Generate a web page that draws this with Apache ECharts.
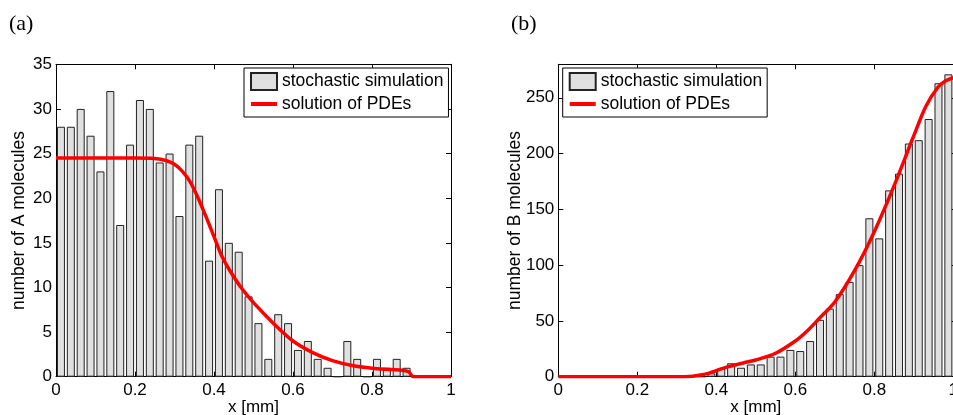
<!DOCTYPE html>
<html><head><meta charset="utf-8">
<script src="https://cdn.jsdelivr.net/npm/echarts@6/dist/echarts.min.js"></script>
<style>html,body{margin:0;padding:0;background:#fff;}#c{width:953px;height:415px;}</style>
</head><body><div id="c"></div>
<script>
// histogram bin centres (40 bins of 0.025 mm)
const binCenters = [0.0125,0.0375,0.0625,0.0875,0.1125,0.1375,0.1625,0.1875,0.2125,0.2375,
  0.2625,0.2875,0.3125,0.3375,0.3625,0.3875,0.4125,0.4375,0.4625,0.4875,
  0.5125,0.5375,0.5625,0.5875,0.6125,0.6375,0.6625,0.6875,0.7125,0.7375,
  0.7625,0.7875,0.8125,0.8375,0.8625,0.8875,0.9125,0.9375,0.9625,0.9875];
// stochastic simulation counts, panel (a): A molecules
const countsA = [28,28,30,27,23,32,17,26,31,30,24,25,18,26,27,13,21,15,14,9,
  6,2,7,6,3,4,2,1,0,4,2,0,2,1,2,1,0,0,0,0];
// stochastic simulation counts, panel (b): B molecules
const countsB = [0,0,0,0,0,0,0,0,0,0,0,0,0,0,0,3,7,12,8,11,
  11,18,18,24,23,32,51,61,74,85,100,142,124,167,182,209,212,231,263,271];
// PDE solution, panel (a)
const pdeAx = [0,0.1,0.2,0.25,0.28,0.3,0.32,0.34,0.36,0.38,0.40,0.42,0.44,0.47,0.5,0.55,0.6,0.65,0.7,0.75,0.8,0.85,0.88,0.893,0.905,0.95,1.0];
const pdeAy = [24.5,24.5,24.5,24.45,24.2,23.8,23.0,21.8,20.0,17.9,15.7,13.5,11.9,9.9,8.3,6.0,4.0,2.7,1.8,1.25,0.95,0.8,0.7,0.55,0,0,0];
// PDE solution, panel (b)
const pdeBx = [0,0.15,0.3,0.34,0.36,0.38,0.40,0.43,0.47,0.5,0.55,0.6,0.63,0.66,0.7,0.75,0.8,0.85,0.9,0.93,0.96,0.98,1.0];
const pdeBy = [0,0,0,0.5,1.5,3,5.5,9,12.5,15,21,32,41,52,67,95,130,171,216,242,259,265,268];
const xTicks = [0,0.2,0.4,0.6,0.8,1];
const yTicksA = [0,5,10,15,20,25,30,35];
const yTicksB = [0,50,100,150,200,250];
const seriesNames = ['stochastic simulation','solution of PDEs'];
const yNames = ['number of A molecules','number of B molecules'];
const panelLabels = ['(a)','(b)'];

const SANS = 'Liberation Sans, Arial, sans-serif';
const black = '#000';
function xAx(g, pos){
  return {gridIndex:g,type:'value',min:xTicks[0],max:xTicks[xTicks.length-1],interval:xTicks[1]-xTicks[0],position:pos,
    axisLine:{show:true,onZero:false,lineStyle:{color:black,width:1}},
    axisTick:{show:true,inside:true,length:5,lineStyle:{color:black}},
    axisLabel:{show:pos==='bottom',color:black,fontSize:17,fontFamily:SANS,margin:5},
    splitLine:{show:false},
    name:pos==='bottom'?'x [mm]':'',nameLocation:'middle',nameGap:22,nameMoveOverlap:false,
    nameTextStyle:{color:black,fontSize:17,fontFamily:SANS}};
}
function yAx(g, pos, ticks, max, nameGap){
  return {gridIndex:g,type:'value',min:0,max:max,interval:ticks[1]-ticks[0],position:pos,
    axisLine:{show:true,onZero:false,lineStyle:{color:black,width:1}},
    axisTick:{show:true,inside:true,length:5,lineStyle:{color:black}},
    axisLabel:{show:pos==='left',color:black,fontSize:17,fontFamily:SANS,margin:4,showMaxLabel:max===ticks[ticks.length-1]},
    splitLine:{show:false},
    name:pos==='left'?yNames[g]:'',nameLocation:'middle',nameGap:nameGap,nameMoveOverlap:false,
    nameTextStyle:{color:black,fontSize:17.5,fontFamily:SANS}};
}
function legend(left){
  return {left:left,top:68,orient:'vertical',itemWidth:26,itemHeight:17,itemGap:4,
    padding:[4,5,4,5],borderColor:black,borderWidth:1,backgroundColor:'#fff',
    textStyle:{color:black,fontSize:17.5,fontFamily:SANS,lineHeight:18},
    data:[{name:seriesNames[0],icon:'rect'},
          {name:seriesNames[1],itemStyle:{color:'rgba(0,0,0,0)',borderWidth:0,opacity:0},
           lineStyle:{color:'#ff0000',width:4}}],
    selectedMode:false};
}
function barSeries(g, counts){
  return {name:seriesNames[0],type:'bar',xAxisIndex:g*2,yAxisIndex:g*2,barWidth:8,
    data:binCenters.map((c,i)=>[c,counts[i]]),
    itemStyle:{color:'#e0e0e0',borderColor:'#222',borderWidth:1},silent:true};
}
function lineSeries(g, xs, ys){
  return {name:seriesNames[1],type:'line',xAxisIndex:g*2,yAxisIndex:g*2,symbol:'none',
    smooth:0.3,data:xs.map((x,i)=>[x,ys[i]]),
    lineStyle:{color:'#ff0000',width:3.5},itemStyle:{color:'#ff0000'},z:5,silent:true};
}
const chart = echarts.init(document.getElementById('c'),null,{renderer:'canvas'});
chart.setOption({
  animation:false,
  backgroundColor:'#fff',
  title:[
    {text:panelLabels[0],left:4,top:8,textStyle:{fontFamily:'Liberation Serif, serif',fontSize:22,fontWeight:'normal',color:black}},
    {text:panelLabels[1],left:506,top:8,textStyle:{fontFamily:'Liberation Serif, serif',fontSize:22,fontWeight:'normal',color:black}}
  ],
  grid:[
    {left:56,top:64.3,width:395,height:312.4,show:false,containLabel:false,outerBoundsMode:'none'},
    {left:558.3,top:64.3,width:395,height:312.4,show:false,containLabel:false,outerBoundsMode:'none'}
  ],
  xAxis:[xAx(0,'bottom'),xAx(0,'top'),xAx(1,'bottom'),xAx(1,'top')],
  yAxis:[yAx(0,'left',yTicksA,35,28),yAx(0,'right',yTicksA,35,28),yAx(1,'left',yTicksB,280,34),yAx(1,'right',yTicksB,280,34)],
  legend:[legend(244),legend(562.7)],
  series:[barSeries(0,countsA),lineSeries(0,pdeAx,pdeAy),barSeries(1,countsB),lineSeries(1,pdeBx,pdeBy)]
});
</script></body></html>
